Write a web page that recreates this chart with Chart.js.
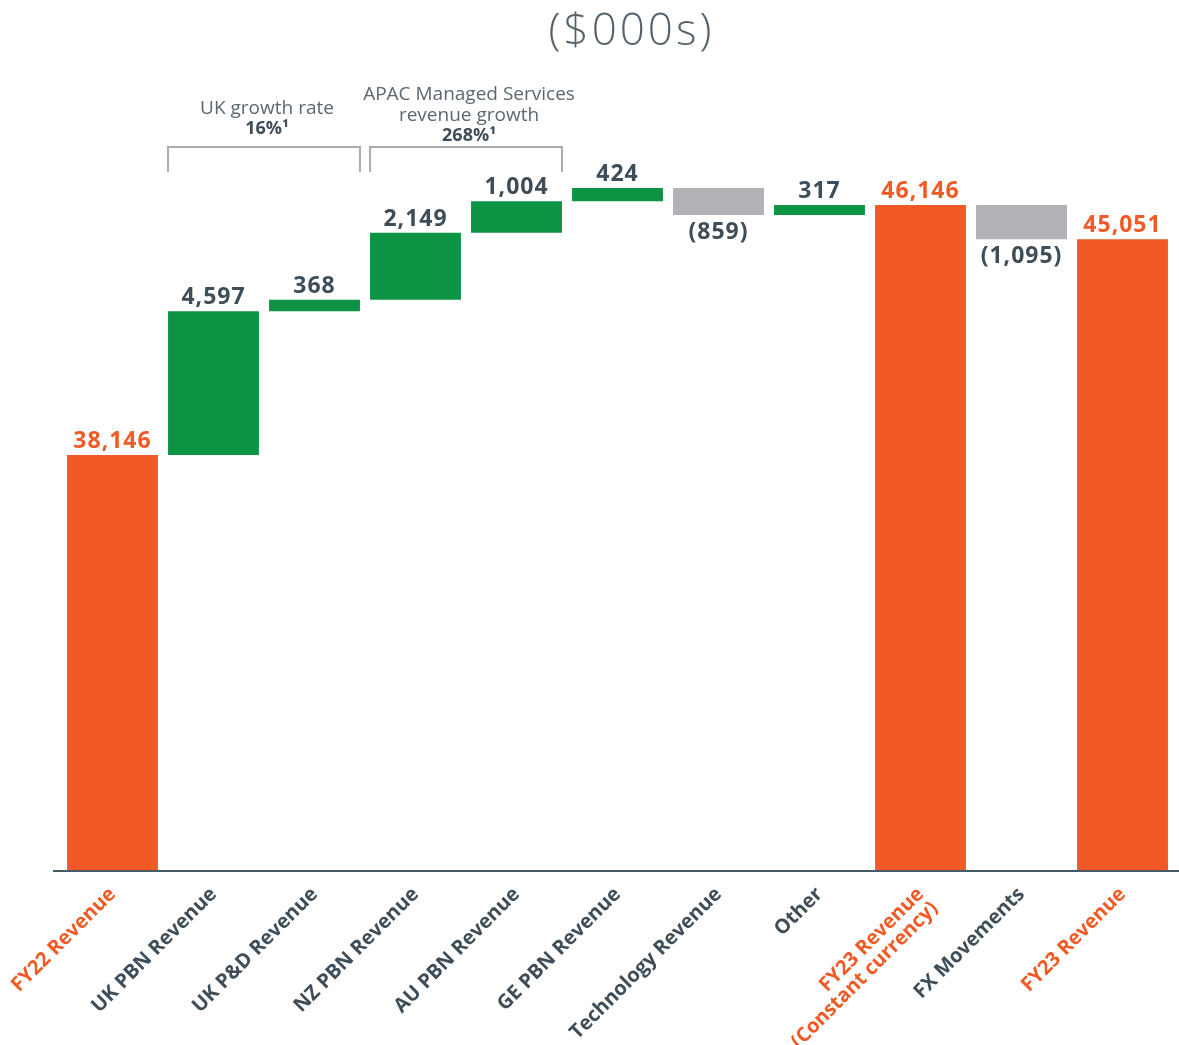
<!DOCTYPE html>
<html>
<head>
<meta charset="utf-8">
<script src="https://cdn.jsdelivr.net/npm/chart.js@4.4.1/dist/chart.umd.min.js"></script>
<style>
  body { margin: 0; background: #ffffff; }
  #wrap { width: 1179px; height: 1045px; }
</style>
</head>
<body>
<div id="wrap"><canvas id="revenueBridge" width="1179" height="1045"></canvas></div>
<script>
// categories and movements ($000s)
const categories = ['FY22 Revenue', 'UK PBN Revenue', 'UK P&D Revenue', 'NZ PBN Revenue', 'AU PBN Revenue',
    'GE PBN Revenue', 'Technology Revenue', 'Other', ['FY23 Revenue', '(Constant currency)'], 'FX Movements', 'FY23 Revenue'];
const movements = [38146, 4597, 368, 2149, 1004, 424, -859, 317, 46146, -1095, 45051];
const isTotal = [true, false, false, false, false, false, false, false, true, false, true];

const ORANGE = '#f15a24';
const GREEN = '#0c9444';
const GREY = '#b1b2b5';
const DARK = '#3e4d58';

// build floating bars from running total
let running = 0;
const ranges = [];
const barColors = [];
movements.forEach((v, i) => {
    if (isTotal[i]) {
        ranges.push([0, v]);
        running = v;
        barColors.push(ORANGE);
    } else {
        ranges.push([running, running + v]);
        running += v;
        barColors.push(v >= 0 ? GREEN : GREY);
    }
});

function fmt(v) {
    const s = Math.abs(v).toLocaleString('en-US');
    return v < 0 ? '(' + s + ')' : s;
}

// value labels above / below each bar
const valueLabels = {
    id: 'valueLabels',
    afterDatasetsDraw(chart) {
        const ctx = chart.ctx;
        const meta = chart.getDatasetMeta(0);
        ctx.save();
        ctx.font = 'bold 23px "Open Sans"';
        ctx.letterSpacing = '1px';
        ctx.textAlign = 'center';
        meta.data.forEach((bar, i) => {
            const v = movements[i];
            const r = ranges[i];
            const top = chart.scales.y.getPixelForValue(Math.max(r[0], r[1]));
            const bottom = chart.scales.y.getPixelForValue(Math.min(r[0], r[1]));
            ctx.fillStyle = isTotal[i] ? ORANGE : DARK;
            if (v >= 0) {
                ctx.textBaseline = 'bottom';
                ctx.fillText(fmt(v), bar.x, top - 2);
            } else {
                ctx.textBaseline = 'top';
                ctx.fillText(fmt(v), bar.x, bottom + 6);
            }
        });
        ctx.restore();
    }
};

// brackets with growth notes, the title and the base line
const extras = {
    id: 'extras',
    afterDraw(chart) {
        const ctx = chart.ctx;
        const meta = chart.getDatasetMeta(0);
        const area = chart.chartArea;
        ctx.save();

        // title
        ctx.fillStyle = '#56636d';
        ctx.font = '300 44px "Open Sans"';
        ctx.letterSpacing = '3px';
        ctx.textAlign = 'center';
        ctx.textBaseline = 'middle';
        ctx.fillText('($000s)', (area.left + area.right) / 2 + 14, 32);
        ctx.letterSpacing = '0px';

        // base line
        ctx.strokeStyle = '#4a5a64';
        ctx.lineWidth = 2;
        ctx.beginPath();
        ctx.moveTo(area.left - 9, area.bottom + 1);
        ctx.lineTo(chart.width, area.bottom + 1);
        ctx.stroke();

        function bracket(a, b, lines, lift) {
            const x1 = meta.data[a].x - meta.data[a].width / 2;
            const x2 = meta.data[b].x + meta.data[b].width / 2;
            const yTop = area.top + 67;
            ctx.strokeStyle = '#a9abae';
            ctx.lineWidth = 2;
            ctx.beginPath();
            ctx.moveTo(x1, yTop + 25);
            ctx.lineTo(x1, yTop);
            ctx.lineTo(x2, yTop);
            ctx.lineTo(x2, yTop + 25);
            ctx.stroke();
            const cx = (x1 + x2) / 2 + 3;
            ctx.textAlign = 'center';
            ctx.textBaseline = 'middle';
            lines.forEach((ln, k) => {
                const y = yTop - lift - (lines.length - 1 - k) * 20.5;
                ctx.fillStyle = ln.bold ? DARK : '#5b6770';
                ctx.font = ln.bold ? 'bold 18px "Open Sans"' : '19px "Open Sans"';
                ctx.fillText(ln.text, cx, y);
            });
        }
        bracket(1, 2, [{ text: 'UK growth rate' }, { text: '16%¹', bold: true }], 18);
        bracket(3, 4, [{ text: 'APAC Managed Services' }, { text: 'revenue growth' }, { text: '268%¹', bold: true }], 11);
        ctx.restore();
    }
};

const ctx = document.getElementById('revenueBridge').getContext('2d');
new Chart(ctx, {
    type: 'bar',
    data: {
        labels: categories,
        datasets: [{
            data: ranges,
            backgroundColor: barColors,
            borderWidth: 0,
            borderSkipped: false,
            barPercentage: 0.9,
            categoryPercentage: 1.0
        }]
    },
    options: {
        responsive: false,
        animation: false,
        layout: {
            padding: { left: 62, right: 6, top: 80, bottom: 0 }
        },
        scales: {
            x: {
                grid: { display: false },
                border: { display: false },
                afterFit: (scale) => { scale.height = 175; },
                ticks: {
                    minRotation: 45,
                    maxRotation: 45,
                    padding: 6,
                    font: { family: '"Open Sans"', size: 20, weight: 'bold', lineHeight: 1.0 },
                    color: (c) => isTotal[c.index] ? ORANGE : DARK
                }
            },
            y: {
                display: false,
                min: 24866,
                max: 50146
            }
        },
        plugins: {
            legend: { display: false },
            tooltip: { enabled: false }
        }
    },
    plugins: [valueLabels, extras]
});
</script>
</body>
</html>
